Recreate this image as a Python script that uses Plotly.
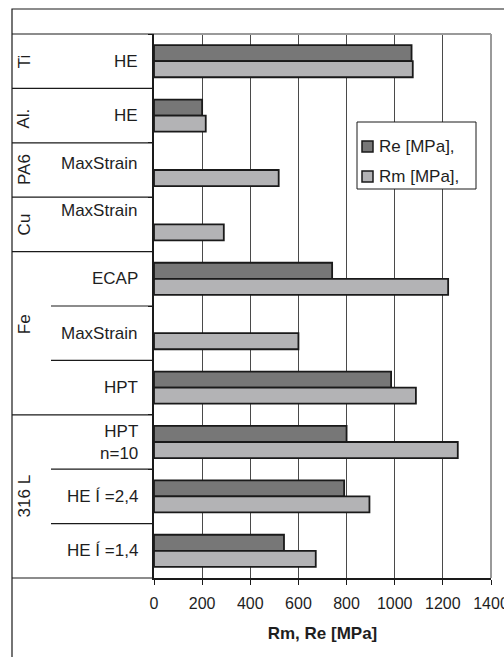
import plotly.graph_objects as go

# ---- data ----
groups = ["Ti", "Al.", "PA6", "Cu", "Fe", "Fe", "Fe", "316 L", "316 L", "316 L"]
methods = ["HE", "HE", "MaxStrain", "MaxStrain", "ECAP", "MaxStrain", "HPT",
           "HPT<br>n=10", "HE Í =2,4", "HE Í =1,4"]
re_vals = [1070, 200, None, None, 740, None, 985, 800, 790, 540]
rm_vals = [1075, 215, 518, 290, 1222, 600, 1088, 1262, 895, 672]
x_ticks = [0, 200, 400, 600, 800, 1000, 1200, 1400]
series_names = ["Re [MPa],", "Rm [MPa],"]
series_colors = ["#777777", "#b3b3b5"]

cats = [f"{g} {m}" for g, m in zip(groups, methods)]
n = len(cats)

FONT = "Liberation Sans, Arial, sans-serif"
TXT = "#1e1e1e"
EDGE = "#1a1a1a"

fig = go.Figure()
for name, vals, col in zip(series_names, [re_vals, rm_vals], series_colors):
    fig.add_trace(go.Bar(
        y=cats, x=vals, orientation="h", name=name,
        marker=dict(color=col, line=dict(color=EDGE, width=1.8)),
        showlegend=False,
    ))

# geometry helpers (paper coords)
L, R, T, B = 154, 13, 34, 79
W, H = 504, 657
pw = W - L - R
ph = H - T - B
def px_x(p):
    return (p - L) / pw
def px_y(p):
    return 1 - (p - T) / ph

def bound_y(i):
    # paper y of the boundary above row i (rows from top)
    return 1 - i / n

shapes = []
# outer frame
shapes.append(dict(type="rect", xref="paper", yref="paper",
                   x0=px_x(12), x1=1.3, y0=-0.5, y1=px_y(9),
                   line=dict(color=EDGE, width=1.2), fillcolor="rgba(0,0,0,0)",
                   layer="below"))
# plot area top/right grey border
shapes.append(dict(type="line", xref="paper", yref="paper", x0=0, x1=1, y0=1, y1=1,
                   line=dict(color="#9a9a9a", width=2)))
shapes.append(dict(type="line", xref="paper", yref="paper", x0=1, x1=1, y0=0, y1=1,
                   line=dict(color="#9a9a9a", width=2)))
# group separators
for i in range(n + 1):
    if i == 0 or i == n or groups[i] != groups[i - 1]:
        x0 = px_x(12)
    else:
        x0 = px_x(51)
    shapes.append(dict(type="line", xref="paper", yref="paper",
                       x0=x0, x1=0, y0=bound_y(i), y1=bound_y(i),
                       line=dict(color=EDGE, width=1.2)))

annotations = []
# legend (box, swatches, labels)
shapes.append(dict(type="rect", xref="paper", yref="paper",
                   x0=px_x(357), x1=px_x(476), y0=px_y(189), y1=px_y(122),
                   line=dict(color=EDGE, width=1), fillcolor="white"))
for k, (name, col) in enumerate(zip(series_names, series_colors)):
    cy = 146.5 + 30 * k
    shapes.append(dict(type="rect", xref="paper", yref="paper",
                       x0=px_x(362), x1=px_x(373), y0=px_y(cy + 5.5), y1=px_y(cy - 5.5),
                       line=dict(color=EDGE, width=1.5), fillcolor=col))
    annotations.append(dict(xref="paper", yref="paper", x=px_x(377), y=px_y(cy),
                            text=name, showarrow=False, xanchor="left", yanchor="middle",
                            font=dict(family=FONT, size=17, color=TXT)))

# method labels
method_shift = {2: 7, 3: 14}
for i, m in enumerate(methods):
    annotations.append(dict(xref="paper", yref="y", x=px_x(140), y=i,
                            text=m, showarrow=False, xanchor="right",
                            yanchor="middle", align="right",
                            yshift=method_shift.get(i, 0),
                            font=dict(family=FONT, size=17, color=TXT)))
# group labels (rotated)
group_shift = {"Fe": 9, "Al.": -3}
for g in dict.fromkeys(groups):
    idx = [i for i, gg in enumerate(groups) if gg == g]
    yc = (idx[0] + idx[-1]) / 2
    annotations.append(dict(xref="paper", yref="y", x=px_x(24), y=yc,
                            text=g, showarrow=False, textangle=-90,
                            xanchor="center", yanchor="middle",
                            yshift=group_shift.get(g, 0),
                            font=dict(family=FONT, size=17, color=TXT)))

fig.update_layout(
    width=W, height=H,
    margin=dict(l=L, r=R, t=T, b=B, pad=0, autoexpand=False),
    paper_bgcolor="white", plot_bgcolor="white",
    barmode="group", bargap=0.41, bargroupgap=0,
    font=dict(family=FONT, size=16, color=TXT),
    showlegend=False,
    xaxis=dict(range=[0, 1400], tickvals=x_ticks, ticktext=[str(v) for v in x_ticks],
               automargin=False,
               showgrid=True, gridcolor="#4a4a4a", gridwidth=1,
               showline=True, linecolor=EDGE, linewidth=1.5,
               ticks="outside", ticklen=5, tickcolor=EDGE,
               ticklabelstandoff=5, ticklabeloverflow="allow",
               tickfont=dict(family=FONT, size=16, color=TXT),
               zeroline=False, fixedrange=True,
               title=dict(text="<b>Rm, Re [MPa]</b>", standoff=16,
                          font=dict(family=FONT, size=17, color=TXT))),
    yaxis=dict(categoryorder="array", categoryarray=cats, autorange="reversed",
               automargin=False,
               showticklabels=False, ticks="outside", tickson="boundaries",
               ticklen=4, tickcolor=EDGE,
               showline=True, linecolor=EDGE, linewidth=1.5,
               showgrid=False, zeroline=False, fixedrange=True),
    shapes=shapes, annotations=annotations,
)

fig.write_html("out.html", config={"displayModeBar": False},
               post_script="document.body.style.margin='0';document.body.style.overflow='hidden';")
